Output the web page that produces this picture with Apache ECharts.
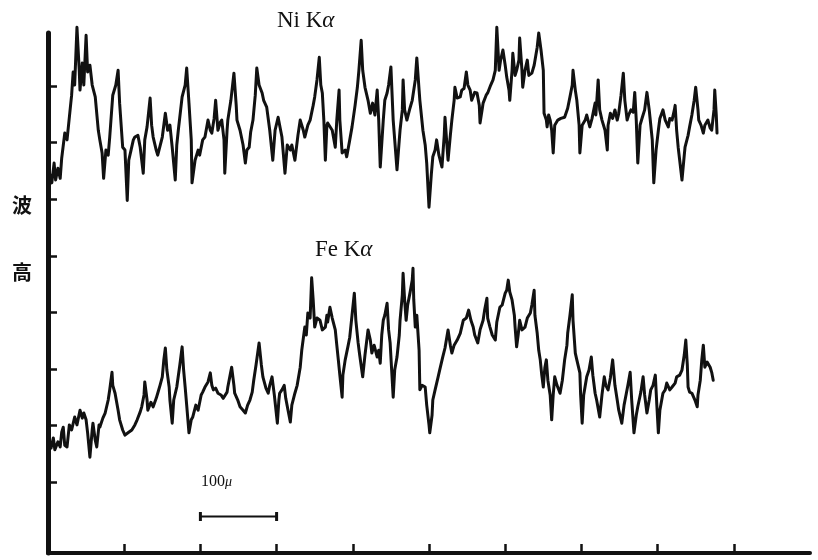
<!DOCTYPE html>
<html>
<head>
<meta charset="utf-8">
<script src="https://cdn.jsdelivr.net/npm/echarts@6/dist/echarts.min.js"></script>
<style>
  html, body { margin: 0; padding: 0; background: #fff; }
  #chart { width: 818px; height: 560px; }
</style>
</head>
<body>
<div id="chart"></div>
<script>
// Line scan across the specimen: position along the scan (μm) and X-ray wave height.

// Ni Kα trace
const niPos = [
  3,5,8,10,13,16,18,22,25,29, 31,33,35,38,41,42,45,47,50,52,
  55,58,62,66,68,71,73,76,79,81, 85,89,92,94,98,101,104,106,109,112,
  114,118,121,125,127,130,134,136,138,142, 144,150,154,157,160,163,167,169,171,176,
  180,182,185,188,189,193,197,199,203,206, 210,213,215,218,220,223,226,228,231,232,
  235,236,240,244,247,248,252,256,259,261, 264,266,269,272,274,277,281,283,287,291,
  295,298,302,304,307,311,314,318,320,324, 328,331,335,337,341,344,348,350,353,356,
  358,360,362,364,366,367,373,377,379,382, 383,386,390,392,396,399,403,406,408,411,
  413,416,420,423,426,429,432,434,436,440, 442,445,447,450,453,455,458,461,462,465,
  466,468,471,475,478,482,484,487,488,492, 495,497,500,503,505,508,510,513,517,520,
  521,524,525,528,530,533,534,537,541,543, 546,549,551,554,556,560,563,566,567,570,
  571,575,577,581,584,587,589,592,594,597, 600,602,605,606,609,610,613,615,618,619,
  622,623,626,629,631,635,638,642,644,647, 650,651,654,655,657,659,661,663,665,669,
  673,678,682,685,688,689,692,694,697,698, 701,705,707,711,714,718,719,722,724,727,
  731,734,735,738,741,744,747,749,752,755, 757,760,762,765,768,770,772,774,777,780,
  783,786,789,790,793,795,798,801,803,807, 810,814,816,819,822,823,825,827,829,832,
  835,836,840,842,845,848,850,853,854,857, 860,862,866,869,871,874,875,877,878
];
const niHeight = [
  54.3,52.9,56.4,53.4,55.5,53.7,57.3,61.7,60.5,65.8, 68.4,72.5,70.2,80.4,72.8,69.3,74.1,70.2,79.0,72.5,
  73.7,70.2,68.1,62.2,60.5,58.2,53.7,58.7,57.8,61.0, 68.4,70.2,72.8,67.0,59.2,58.7,49.8,56.9,58.7,60.5,
  61.0,61.3,59.2,54.6,60.5,62.8,67.9,63.1,61.0,58.7, 57.8,61.0,65.2,62.2,63.1,59.2,53.4,59.6,62.2,68.1,
  70.2,73.2,67.0,60.5,52.9,56.9,58.7,57.8,60.5,61.0, 64.0,62.2,61.7,64.3,67.5,62.2,63.6,64.0,60.5,54.6,
  62.2,64.0,67.5,72.3,66.6,64.0,62.2,59.6,56.4,58.7, 59.2,61.9,64.0,68.4,73.2,70.2,68.8,67.5,66.3,62.2,
  56.9,62.2,64.5,63.1,61.0,54.6,59.6,58.7,59.6,56.9, 61.3,64.0,62.2,61.0,63.1,64.0,66.6,68.1,71.1,75.1,
  70.2,68.8,64.0,56.9,63.1,63.5,62.2,59.2,64.0,69.3, 64.0,58.2,58.7,57.5,60.5,62.8,66.6,69.8,72.8,78.1,
  72.8,69.8,67.5,65.2,67.0,64.9,69.3,64.0,55.7,64.0, 67.5,68.8,70.2,73.4,64.0,60.5,55.2,60.5,62.2,65.8,
  71.1,65.8,64.0,66.1,67.5,71.1,75.0,69.3,67.5,62.2, 59.6,56.4,48.6,54.3,57.5,58.7,60.5,57.8,55.7,61.3,
  64.5,58.7,56.9,61.3,64.0,67.5,69.8,67.9,68.1,69.3, 69.6,72.5,70.2,69.3,67.5,68.9,68.8,66.6,63.5,66.1,
  67.0,68.4,68.8,70.2,71.1,72.8,80.4,72.8,74.6,76.4, 73.7,71.6,69.3,67.5,72.8,75.8,71.9,72.8,74.6,78.5,
  72.8,69.8,72.8,74.6,71.9,72.3,73.7,76.9,79.4,76.4, 72.8,65.2,64.0,62.8,64.9,64.0,62.2,58.2,63.1,64.0,
  64.3,64.5,66.1,68.1,70.2,72.8,69.3,67.5,63.1,58.2, 63.1,64.0,64.9,62.8,64.3,67.0,64.9,71.1,65.8,64.0,
  62.2,58.7,63.1,65.2,64.3,65.8,64.0,65.2,68.4,72.3, 67.5,64.0,64.9,65.8,65.4,68.9,64.0,56.4,63.1,64.5,
  65.8,68.9,65.8,64.5,60.5,52.9,58.7,62.2,64.3,65.8, 64.0,62.8,64.3,64.0,65.8,66.6,62.2,59.2,56.9,53.4,
  57.8,59.2,61.3,62.8,64.9,67.5,69.8,65.8,64.0,63.1, 61.7,63.1,64.0,62.6,62.2,65.8,69.3,64.9,61.7
];

// Fe Kα trace
const fePos = [
  1,4,7,9,13,16,18,20,22,25, 28,29,31,35,38,42,45,47,50,52,
  55,58,59,62,64,67,68,72,75,79, 81,84,85,88,92,94,98,101,105,110,
  114,117,121,123,126,127,130,131,135,138, 142,144,147,150,152,154,156,159,160,163,
  165,169,173,176,178,180,182,185,188,190, 194,197,201,203,206,210,213,215,217,220,
  223,227,230,232,235,236,239,241,244,245, 249,252,256,259,262,265,268,270,273,277,
  280,282,286,289,291,294,297,301,303,304, 307,310,312,315,318,320,324,327,331,333,
  337,339,341,344,346,348,350,353,357,360, 364,366,367,370,373,377,379,381,383,386,
  387,390,394,396,399,402,404,407,409,413, 416,420,423,425,428,432,434,436,438,440,
  442,445,447,449,451,453,455,458,461,462, 465,466,468,470,472,475,478,479,480,482,
  484,486,487,488,491,495,497,500,501,504, 505,508,512,514,518,521,525,528,530,533,
  537,541,545,549,552,555,558,560,564,567, 571,573,576,577,580,583,587,589,593,596,
  600,602,604,606,609,612,613,615,617,619, 622,626,629,633,635,638,639,642,644,646,
  648,650,652,654,656,659,661,663,665,668, 672,675,678,681,682,685,688,689,692,694,
  698,699,701,703,707,710,713,715,718,720, 724,727,730,732,735,738,741,744,747,749,
  753,756,759,761,764,766,769,772,774,778, 781,783,786,789,791,794,797,799,801,803,
  807,810,812,816,819,823,825,829,832,835, 837,839,840,842,845,849,852,853,856,858,
  860,862,865,869,871,873
];
const feHeight = [
  7.4,6.0,7.8,5.7,7.1,6.2,8.8,9.7,6.5,6.2, 10.1,10.4,9.2,11.5,10.1,12.7,11.3,12.2,11.0,8.7,
  4.4,9.2,10.4,7.4,6.2,10.1,9.7,11.3,12.2,14.5, 16.3,19.4,17.1,15.7,12.7,11.0,9.2,8.3,8.7,9.2,
  10.1,11.0,12.4,13.3,15.4,17.7,14.5,12.7,14.1,13.3, 14.8,15.7,17.1,18.6,21.6,23.7,19.8,16.8,14.5,10.4,
  14.5,16.8,20.7,23.9,19.8,16.8,13.6,8.7,11.0,11.5, 13.6,12.7,15.4,15.9,16.8,17.7,19.3,17.1,16.3,16.6,
  15.7,15.4,14.8,14.5,15.9,16.8,18.9,20.3,17.1,15.7, 14.5,13.3,12.7,12.2,13.6,14.5,15.9,18.0,20.7,24.6,
  20.7,18.6,16.6,15.7,17.1,18.6,15.4,10.4,14.5,15.7, 16.3,17.1,14.8,12.7,10.6,13.6,15.7,17.1,20.3,23.3,
  27.4,26.0,29.9,29.0,36.1,32.2,27.4,29.0,28.6,26.9, 27.4,29.5,28.3,30.9,29.0,26.9,24.2,21.6,18.9,15.0,
  18.9,21.6,24.2,25.6,29.5,33.4,28.6,24.6,22.5,18.6, 22.5,26.9,25.1,22.8,24.2,22.1,23.3,21.0,26.0,28.6,
  29.5,31.6,26.9,24.6,19.8,15.0,19.8,22.1,26.0,28.6, 33.1,36.9,32.2,28.6,31.3,33.4,35.7,37.8,32.2,27.4,
  29.5,29.2,23.3,16.3,17.1,16.8,13.6,10.1,8.7,11.8, 14.5,16.3,18.6,19.8,22.1,23.7,26.9,24.2,22.8,24.2,
  25.1,26.3,28.6,29.0,30.4,28.6,27.4,26.0,24.6,26.9, 28.6,30.4,32.5,29.0,27.4,26.0,25.1,28.3,30.9,31.3,
  33.4,33.9,35.7,33.6,32.2,29.5,27.4,23.9,26.0,28.6, 26.9,27.4,29.0,29.9,31.3,33.9,29.5,26.3,23.3,21.6,
  18.9,16.8,20.2,21.6,18.0,15.4,11.0,15.4,18.6,17.1, 15.7,18.0,21.6,24.2,26.3,29.5,33.1,28.6,22.8,21.6,
  19.3,15.4,10.4,15.4,18.6,19.8,22.1,18.9,15.7,14.5, 11.5,15.4,18.6,17.1,16.3,18.4,21.6,17.1,14.5,12.7,
  10.4,13.6,15.7,17.1,19.4,14.5,8.7,11.8,13.3,15.9, 18.6,15.4,12.2,14.5,16.3,17.1,18.9,13.6,8.7,12.7,
  15.7,16.3,17.5,16.3,16.8,17.5,18.6,18.9,19.8,22.5, 25.1,20.7,16.8,15.9,15.7,14.5,13.3,15.4,18.0,21.6,
  24.2,20.3,21.2,20.3,19.4,18.0
];

// Axis ticks (μm along the scan, wave height)
const xTicks = [100, 200, 300, 400, 500, 600, 700, 800, 900];
const yTicks = [0, 10, 20, 30, 40, 50, 60, 70];

// 100 μm scale bar
const scaleBarFrom = 200;
const scaleBarTo = 300;
const scaleBarLevel = -6.1;

const ink = '#111';
const pairs = (xs, ys) => xs.map((x, i) => [x, ys[i]]);

const chart = echarts.init(document.getElementById('chart'), null, { renderer: 'canvas' });

chart.setOption({
  animation: false,
  backgroundColor: '#fff',
  grid: { left: 48, right: 8, top: 33, bottom: 7, containLabel: false },
  xAxis: {
    type: 'value',
    min: 0,
    max: 1000,
    axisLine: { onZero: false, lineStyle: { color: ink, width: 4 } },
    axisTick: { inside: true, length: 9, customValues: xTicks, lineStyle: { color: ink, width: 2.5 } },
    axisLabel: { show: false },
    splitLine: { show: false }
  },
  yAxis: {
    type: 'value',
    min: -12.55,
    max: 79.4,
    axisLine: { show: true, onZero: false, lineStyle: { color: ink, width: 5 } },
    axisTick: { show: true, inside: true, length: 9, customValues: yTicks, lineStyle: { color: ink, width: 2.5 } },
    axisLabel: { show: false },
    splitLine: { show: false }
  },
  series: [
    {
      name: 'Ni Kα',
      type: 'line',
      data: pairs(niPos, niHeight),
      showSymbol: false,
      symbol: 'none',
      clip: false,
      lineStyle: { color: ink, width: 3, join: 'round', cap: 'round' }
    },
    {
      name: 'Fe Kα',
      type: 'line',
      data: pairs(fePos, feHeight),
      showSymbol: false,
      symbol: 'none',
      clip: false,
      lineStyle: { color: ink, width: 3, join: 'round', cap: 'round' }
    },
    {
      name: 'scale',
      type: 'line',
      data: [[scaleBarFrom, scaleBarLevel], [scaleBarTo, scaleBarLevel]],
      symbol: 'rect',
      symbolSize: [3, 9],
      itemStyle: { color: ink },
      lineStyle: { color: ink, width: 2 }
    }
  ],
  graphic: [
    {
      type: 'text', x: 277, y: 21,
      style: {
        text: '{a|Ni K}{b|α}',
        fill: ink,
        textVerticalAlign: 'middle', verticalAlign: 'middle',
        rich: {
          a: { fontFamily: 'Liberation Serif', fontSize: 23, fill: ink },
          b: { fontFamily: 'Liberation Serif', fontSize: 23, fontStyle: 'italic', fill: ink }
        }
      }
    },
    {
      type: 'text', x: 315, y: 250,
      style: {
        text: '{a|Fe K}{b|α}',
        fill: ink,
        textVerticalAlign: 'middle', verticalAlign: 'middle',
        rich: {
          a: { fontFamily: 'Liberation Serif', fontSize: 23, fill: ink },
          b: { fontFamily: 'Liberation Serif', fontSize: 23, fontStyle: 'italic', fill: ink }
        }
      }
    },
    {
      type: 'text', x: 22, y: 205,
      style: {
        text: '波', fill: ink,
        font: 'bold 20px "Noto Sans CJK JP"',
        textAlign: 'center', align: 'center',
        textVerticalAlign: 'middle', verticalAlign: 'middle'
      }
    },
    {
      type: 'text', x: 22, y: 272,
      style: {
        text: '高', fill: ink,
        font: 'bold 20px "Noto Sans CJK JP"',
        textAlign: 'center', align: 'center',
        textVerticalAlign: 'middle', verticalAlign: 'middle'
      }
    },
    {
      type: 'text', x: 201, y: 482,
      style: {
        text: '{a|100}{b|μ}',
        fill: ink,
        textVerticalAlign: 'middle', verticalAlign: 'middle',
        rich: {
          a: { fontFamily: 'Liberation Serif', fontSize: 16, fill: ink },
          b: { fontFamily: 'Liberation Serif', fontSize: 14, fontStyle: 'italic', fill: ink }
        }
      }
    }
  ]
});
</script>
</body>
</html>
